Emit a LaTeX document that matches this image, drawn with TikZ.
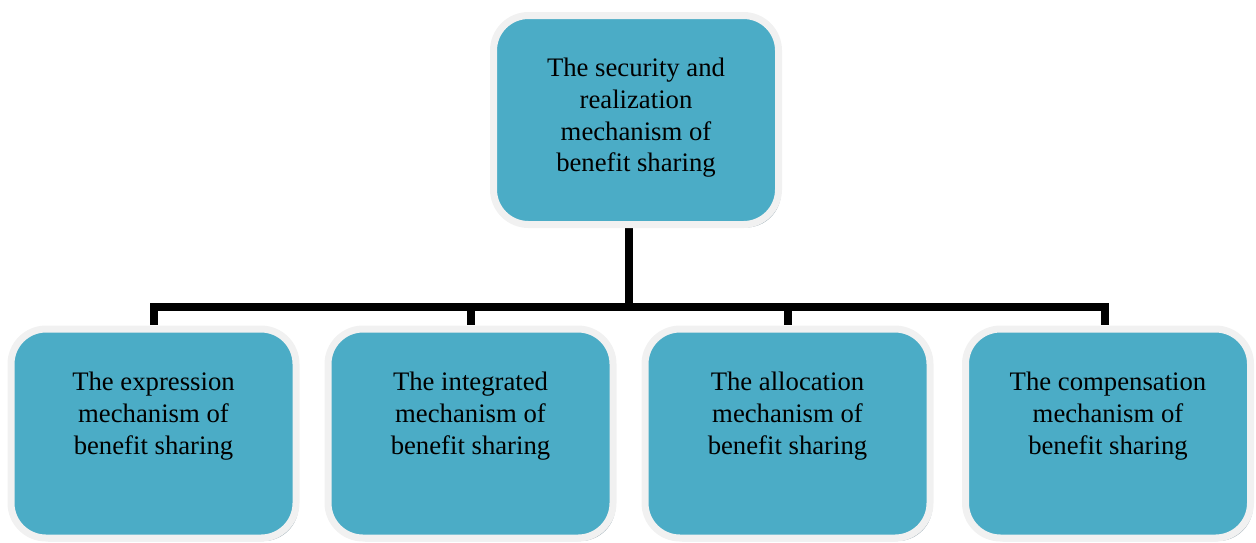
\documentclass[tikz,border=0pt]{standalone}
\usepackage{fontspec}
\setmainfont{Liberation Serif}
\usepackage{xcolor}
\usepackage{tikz}
\usetikzlibrary{shadows}
\definecolor{boxblue}{HTML}{4BACC6}
\definecolor{boxrim}{HTML}{F1F1F1}
\definecolor{boxshade}{HTML}{9EAEB6}

\begin{document}
\begin{tikzpicture}[
    mechbox/.style={draw=boxrim, line width=0.14cm, fill=boxblue,
      rounded corners=0.7cm, minimum width=5.7cm, minimum height=4.18cm,
      drop shadow={shadow xshift=0.05cm, shadow yshift=-0.06cm,
        fill=boxshade, opacity=1}},
    mechtext/.style={align=center, font=\rmfamily\fontsize{15.2}{18}\selectfont},
    link/.style={line width=0.16cm}
  ]
    \useasboundingbox (0,0) rectangle (25.12,-10.84);

    \coordinate (bus) at (12.58,-6.14);
    \coordinate (d1) at (3.07,-6.5);
    \coordinate (d2) at (9.41,-6.5);
    \coordinate (d3) at (15.75,-6.5);
    \coordinate (d4) at (22.10,-6.5);
    \draw[link] (12.58,-4.4) -- (bus);
    \draw[link] (bus) -| (d1);
    \draw[link] (bus) -| (d2);
    \draw[link] (bus) -| (d3);
    \draw[link] (bus) -| (d4);

    \node[mechbox] (top) at (12.72,-2.40) {};
    \node[mechtext] (toptext) at (12.72,-2.36) {The security and\\realization\\mechanism of\\benefit sharing};

    \node[mechbox] (a) at (3.07,-8.67) {};
    \node[mechtext] (atext) at (3.07,-8.32) {The expression\\mechanism of\\benefit sharing};

    \node[mechbox] (b) at (9.41,-8.67) {};
    \node[mechtext] (btext) at (9.41,-8.32) {The integrated\\mechanism of\\benefit sharing};

    \node[mechbox] (c) at (15.75,-8.67) {};
    \node[mechtext] (ctext) at (15.75,-8.32) {The allocation\\mechanism of\\benefit sharing};

    \node[mechbox] (d) at (22.16,-8.67) {};
    \node[mechtext] (dtext) at (22.16,-8.32) {The compensation\\mechanism of\\benefit sharing};
  \end{tikzpicture}
\end{document}
